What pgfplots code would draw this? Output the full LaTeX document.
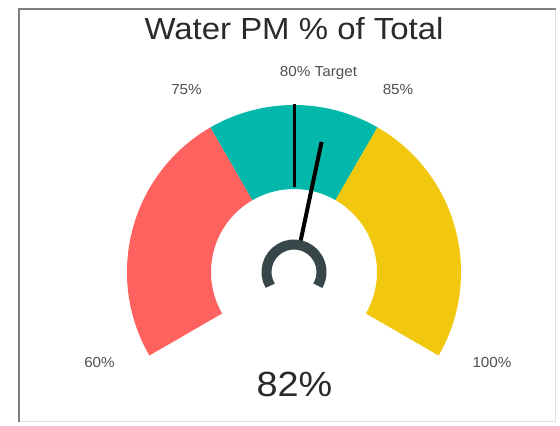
\documentclass[border=0pt]{standalone}
\usepackage{pgfplots}
\pgfplotsset{compat=1.18}
\usepackage{fontspec}
\setmainfont{Liberation Sans}
\definecolor{pbred}{HTML}{FD625E}
\definecolor{pbteal}{HTML}{01B8AA}
\definecolor{pbyellow}{HTML}{F2C80F}
\definecolor{hub}{HTML}{374649}
\definecolor{lab}{HTML}{505050}
\definecolor{ttl}{HTML}{2A2A2A}
% gauge: value v -> angle 210-(v-60)*6 ; centre (294,154), radii 83..167 (px)
\newcommand\band[3]{%
  \fill[#3] (axis cs:294,154) ++({210-(#1-60)*6}:167pt)
    arc[start angle={210-(#1-60)*6}, end angle={210-(#2-60)*6}, radius=167pt]
    -- ([shift={({210-(#2-60)*6}:83pt)}]axis cs:294,154)
    arc[start angle={210-(#2-60)*6}, end angle={210-(#1-60)*6}, radius=83pt]
    -- cycle;}
\begin{document}
\begin{tikzpicture}
\begin{axis}[x=1pt, y=1pt, xmin=0, xmax=560, ymin=0, ymax=426,
  hide axis, clip=false]
% background and frame
\fill[white] (axis cs:0,0) rectangle (axis cs:560,426);
\draw[black!12, line width=1pt] (axis cs:555,417) -- (axis cs:555,4) -- (axis cs:19,4);
\draw[black!50, line width=2pt] (axis cs:19,4) -- (axis cs:19,417) -- (axis cs:556,417);
% bands (60-75, 75-85, 85-100)
\band{60}{75}{pbred}
\band{75}{85}{pbteal}
\band{85}{100}{pbyellow}
% target 80%
\addplot[black, line width=3pt] coordinates {(294,239) (294,322)};
% needle 82%
\addplot[black, line width=4pt] coordinates {(299.4,179.4) (321.6,284.1)};
% hub
\draw[hub, line width=10pt] (axis cs:294,154) ++(210:27.5pt) arc[start angle=210, end angle=-30, radius=27.5pt];
% labels
\node[anchor=base, text=ttl, font=\fontsize{30.5}{34}\selectfont] at (axis cs:294,386) {\scalebox{1.08}[1]{Water PM \% of Total}};
\node[anchor=base, text=lab, font=\fontsize{14.5}{17}\selectfont] at (axis cs:318.5,349) {\scalebox{1.05}[1]{80\% Target}};
\node[anchor=base, text=lab, font=\fontsize{14.5}{17}\selectfont] at (axis cs:186.5,331) {\scalebox{1.05}[1]{75\%}};
\node[anchor=base, text=lab, font=\fontsize{14.5}{17}\selectfont] at (axis cs:398,331) {\scalebox{1.05}[1]{85\%}};
\node[anchor=base, text=lab, font=\fontsize{14.5}{17}\selectfont] at (axis cs:99.5,58) {\scalebox{1.05}[1]{60\%}};
\node[anchor=base, text=lab, font=\fontsize{14.5}{17}\selectfont] at (axis cs:492,58) {\scalebox{1.05}[1]{100\%}};
\node[anchor=base, text=ttl, font=\fontsize{35}{40}\selectfont] at (axis cs:294.5,29) {\scalebox{1.08}[1]{82\%}};
\end{axis}
\end{tikzpicture}
\end{document}
